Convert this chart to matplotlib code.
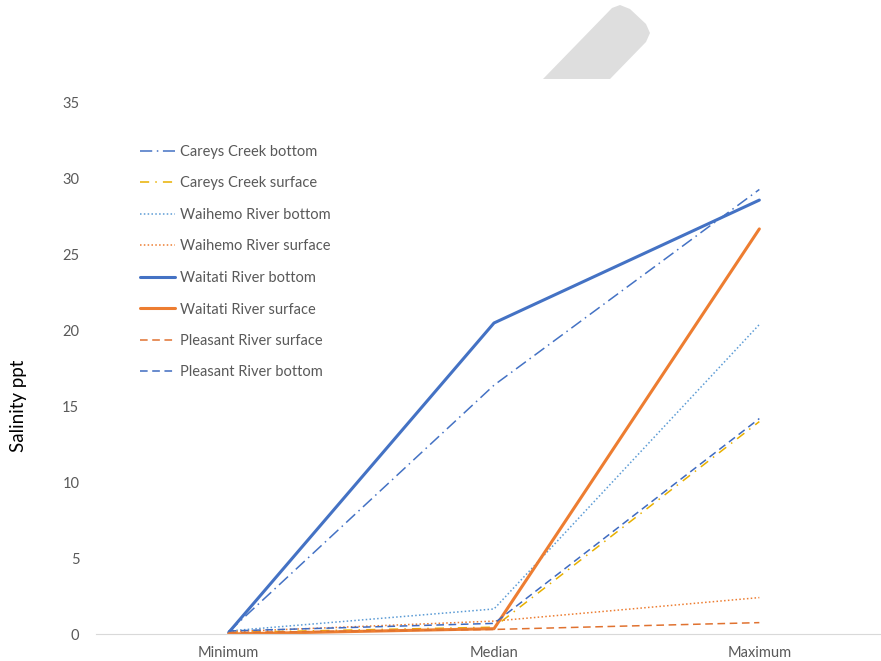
import matplotlib
matplotlib.use("Agg")
import matplotlib.pyplot as plt
from matplotlib.patches import Polygon

categories = ["Minimum", "Median", "Maximum"]
series_names = [
    "Careys Creek bottom", "Careys Creek surface", "Waihemo River bottom",
    "Waihemo River surface", "Waitati River bottom", "Waitati River surface",
    "Pleasant River surface", "Pleasant River bottom",
]
careys_bottom = [0.15, 16.4, 29.3]
careys_surface = [0.1, 0.45, 14.0]
waihemo_bottom = [0.2, 1.65, 20.4]
waihemo_surface = [0.15, 0.85, 2.4]
waitati_bottom = [0.1, 20.5, 28.6]
waitati_surface = [0.0, 0.35, 26.7]
pleasant_surface = [0.1, 0.3, 0.75]
pleasant_bottom = [0.2, 0.7, 14.2]
y_ticks = [0, 5, 10, 15, 20, 25, 30, 35]

plt.rcParams['font.family'] = ['Lato', 'DejaVu Sans']

W, H = 881, 661
fig = plt.figure(figsize=(W / 100, H / 100), dpi=100)
ax = fig.add_axes([96 / W, 27 / H, 796 / W, 531 / H])

x = list(range(len(categories)))
styles = [
    dict(color="#4472C4", lw=1.1, dashes=(8, 3, 1, 3)),
    dict(color="#E8B000", lw=1.1, dashes=(6, 4, 1, 4)),
    dict(color="#5B9BD5", lw=1.1, dashes=(1, 1.5)),
    dict(color="#ED7D31", lw=1.1, dashes=(1, 1.5)),
    dict(color="#4472C4", lw=2.2, dashes=None),
    dict(color="#ED7D31", lw=2.2, dashes=None),
    dict(color="#E07230", lw=1.1, dashes=(5, 3)),
    dict(color="#3F6BC0", lw=1.1, dashes=(5, 3)),
]
data = [careys_bottom, careys_surface, waihemo_bottom, waihemo_surface,
        waitati_bottom, waitati_surface, pleasant_surface, pleasant_bottom]

for name, vals, st in zip(series_names, data, styles):
    line, = ax.plot(x, vals, color=st["color"], lw=st["lw"], label=name,
                    solid_capstyle="round")
    if st["dashes"] is not None:
        line.set_dashes(st["dashes"])

ax.set_xlim(-0.5, 2.5)
ax.set_ylim(0, 35)
ax.set_yticks(y_ticks)
ax.set_xticks(x)
ax.set_xticklabels(categories)
ax.tick_params(axis="both", length=0, labelsize=10.5, labelcolor="#595959")
ax.tick_params(axis="y", pad=12)
ax.tick_params(axis="x", pad=8.5)
for s in ["top", "right", "left"]:
    ax.spines[s].set_visible(False)
ax.spines["bottom"].set_color("#D9D9D9")
ax.spines["bottom"].set_linewidth(0.8)

ax.set_ylabel("Salinity ppt", fontsize=13.5, color="black")
ax.yaxis.set_label_coords(-0.087, 0.43)

leg = ax.legend(loc="upper left", bbox_to_anchor=(140 / W, 1 - 145 / H),
                bbox_transform=fig.transFigure, frameon=False, fontsize=10.5,
                handlelength=2.4, handletextpad=0.35, labelspacing=1.2,
                borderpad=0, borderaxespad=0)
for t in leg.get_texts():
    t.set_color("#595959")

# decorative grey shape at top
pts_px = [(543, 79), (610, 79), (646, 42), (650, 33), (646, 24), (630, 9),
          (620, 5), (612, 8)]
poly = Polygon([(px / W, 1 - py / H) for px, py in pts_px], closed=True,
               transform=fig.transFigure, facecolor="#DEDEDE", edgecolor="none")
fig.patches.append(poly)

fig.savefig("out.png", dpi=100)
